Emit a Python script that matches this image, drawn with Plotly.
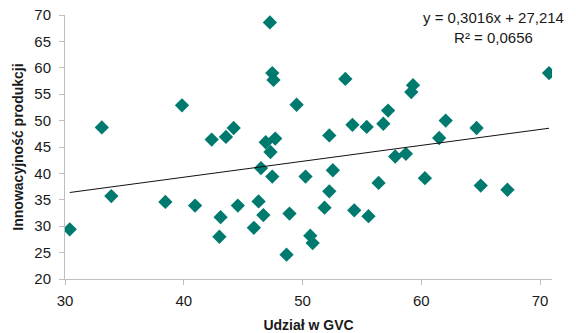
import plotly.graph_objects as go

# Share in global value chains (x) vs. product innovativeness (y)
udzial_gvc = [30.4, 33.1, 33.9, 39.85, 38.45, 40.95, 43.1, 43.0, 42.35, 43.55,
              44.2, 47.25, 47.45, 47.55, 53.6, 49.5, 52.25, 54.2, 55.4, 56.8,
              57.2, 59.3, 59.15, 62.05, 64.65, 61.5, 70.75, 57.8, 58.7, 60.3,
              65.0, 67.25, 47.3, 46.9, 47.7, 46.5, 47.45, 50.25, 52.55, 52.25,
              56.4, 51.85, 54.35, 55.55, 44.55, 46.3, 46.7, 48.9, 45.9, 50.65,
              50.85, 48.65]
innowacyjnosc = [29.4, 48.7, 35.7, 52.9, 34.6, 33.9, 31.7, 28.0, 46.4, 46.9,
                 48.6, 68.6, 59.0, 57.7, 57.9, 53.0, 47.2, 49.2, 48.8, 49.4,
                 51.9, 56.7, 55.4, 50.0, 48.6, 46.7, 59.0, 43.2, 43.7, 39.1,
                 37.7, 36.9, 44.05, 45.9, 46.6, 41.0, 39.4, 39.4, 40.6, 36.6,
                 38.2, 33.5, 33.0, 31.9, 33.9, 34.7, 32.1, 32.4, 29.7, 28.2,
                 26.8, 24.6]

# Linear trend: y = 0,3016x + 27,214 ; R² = 0,0656
slope = 0.3016
intercept = 27.214
r2 = 0.0656

x_ticks = [30, 40, 50, 60, 70]
y_ticks = [20, 25, 30, 35, 40, 45, 50, 55, 60, 65, 70]

x_min, x_max = min(udzial_gvc), max(udzial_gvc)
trend_x = [x_min, x_max]
trend_y = [slope * v + intercept for v in trend_x]

font_family = "Liberation Sans, Arial, sans-serif"
text_color = "#1a1a1a"
axis_color = "#bfbfbf"

fig = go.Figure()
fig.add_trace(go.Scatter(
    x=udzial_gvc, y=innowacyjnosc, mode="markers",
    marker=dict(symbol="diamond", size=11, color="#007a6e", line=dict(width=0)),
    showlegend=False, hoverinfo="x+y",
))
fig.add_trace(go.Scatter(
    x=trend_x, y=trend_y, mode="lines",
    line=dict(color="#111111", width=1),
    showlegend=False, hoverinfo="skip",
))

eq_text = "y = {:.4f}x + {:.3f}".format(slope, intercept).replace(".", ",")
r2_text = "R² = {:.4f}".format(r2).replace(".", ",")
fig.add_annotation(
    text=eq_text + "<br>" + r2_text,
    xref="paper", yref="paper", x=0.88, y=1.03, xanchor="center", yanchor="top",
    showarrow=False, align="center",
    font=dict(family=font_family, size=15, color=text_color),
)

fig.update_layout(
    width=576, height=333,
    margin=dict(l=65, r=24, t=15, b=54),
    paper_bgcolor="white", plot_bgcolor="white",
    font=dict(family=font_family, size=15, color=text_color),
    xaxis=dict(
        range=[30, 71], tickvals=x_ticks, showgrid=False, zeroline=False,
        showline=True, linecolor=axis_color, linewidth=1, automargin=False,
        ticks="outside", ticklen=5, tickcolor=axis_color, ticklabelstandoff=3,
        title=dict(text="<b>Udział w GVC</b>", font=dict(size=14), standoff=14),
    ),
    yaxis=dict(
        range=[20, 70], tickvals=y_ticks, showgrid=False, zeroline=False,
        showline=True, linecolor=axis_color, linewidth=1, automargin=False,
        ticks="outside", ticklen=5, tickcolor=axis_color, ticklabelstandoff=5,
        title=dict(text="<b>Innowacyjność produkcji</b>", font=dict(size=14), standoff=7),
    ),
)

fig.write_html("out.html")
